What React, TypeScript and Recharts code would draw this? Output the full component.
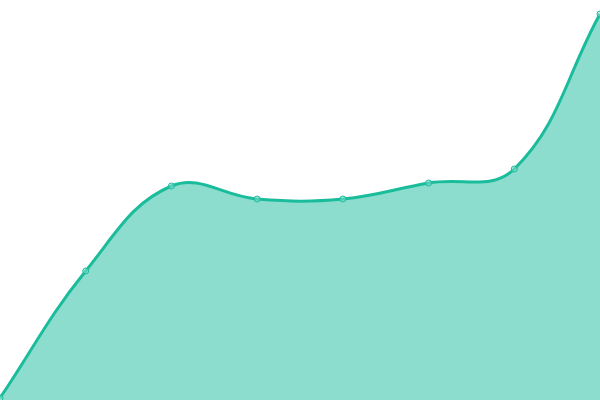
import React from 'react';
import { AreaChart, Area, XAxis, YAxis } from 'recharts';

const categories = ['1', '2', '3', '4', '5', '6', '7', '8'];
const values = [2, 129, 214, 201, 201, 217, 231, 386];

const data = categories.map((name, i) => ({ name, value: values[i] }));

// spline with tension 0.4, control points scaled by neighbour distances
const TENSION = 0.4;
function tensionCurve(context: any) {
  let pts: [number, number][] = [];
  let line: number = NaN;
  return {
    areaStart() { line = 0; },
    areaEnd() { line = NaN; },
    lineStart() { pts = []; },
    point(x: number, y: number) { pts.push([+x, +y]); },
    lineEnd() {
      const n = pts.length;
      if (n) {
        const ctrl = pts.map((cur, i) => {
          const prev = pts[Math.max(i - 1, 0)];
          const next = pts[Math.min(i + 1, n - 1)];
          const d01 = Math.hypot(cur[0] - prev[0], cur[1] - prev[1]);
          const d12 = Math.hypot(next[0] - cur[0], next[1] - cur[1]);
          const sum = d01 + d12 || 1;
          const fa = TENSION * (d01 / sum);
          const fb = TENSION * (d12 / sum);
          const dx = next[0] - prev[0];
          const dy = next[1] - prev[1];
          return {
            px: cur[0] - fa * dx, py: cur[1] - fa * dy,
            nx: cur[0] + fb * dx, ny: cur[1] + fb * dy,
          };
        });
        if (line) context.lineTo(pts[0][0], pts[0][1]);
        else context.moveTo(pts[0][0], pts[0][1]);
        for (let i = 1; i < n; i++) {
          context.bezierCurveTo(ctrl[i - 1].nx, ctrl[i - 1].ny, ctrl[i].px, ctrl[i].py, pts[i][0], pts[i][1]);
        }
      }
      if (line || (line !== 0 && n === 1)) context.closePath();
      line = 1 - line;
    },
  };
}

export default function App() {
  return (
    <div style={{ position: 'absolute', left: 0, top: 0, width: 600, height: 400, background: '#fff' }}>
      <AreaChart width={600} height={400} data={data} margin={{ top: 0, right: 0, bottom: 0, left: 0 }}>
        <XAxis dataKey="name" hide />
        <YAxis hide domain={[0, 400]} />
        <Area
          type={tensionCurve as any}
          dataKey="value"
          stroke="#1abc9c"
          strokeWidth={3}
          fill="#1abc9c"
          fillOpacity={0.5}
          dot={{ r: 3, fill: '#8ae0d0', stroke: '#1abc9c', strokeWidth: 1 }}
          activeDot={false}
          isAnimationActive={false}
        />
      </AreaChart>
    </div>
  );
}
